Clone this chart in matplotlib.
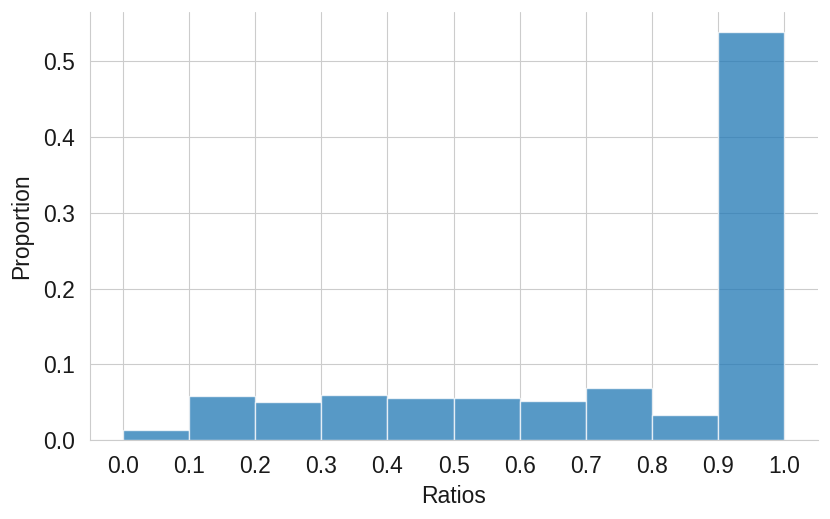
import numpy as np
import matplotlib.pyplot as plt
import seaborn as sns

# bin edges and proportion in each bin
bin_edges   = [0.0, 0.1, 0.2, 0.3, 0.4, 0.5, 0.6, 0.7, 0.8, 0.9, 1.0]
proportions = [0.014, 0.058, 0.050, 0.059, 0.055, 0.056, 0.051, 0.069, 0.033, 0.538]
x_ticks     = [0.0, 0.1, 0.2, 0.3, 0.4, 0.5, 0.6, 0.7, 0.8, 0.9, 1.0]

sns.set_style("whitegrid")
plt.rcParams["font.family"] = ["Liberation Sans", "DejaVu Sans"]

fig, ax = plt.subplots(figsize=(8.3, 5.19), dpi=100)

edges = np.array(bin_edges)
ax.bar(edges[:-1], proportions, width=np.diff(edges), align="edge",
       color="#1f77b4", alpha=0.75, edgecolor="white", linewidth=1.0)

ax.set_xticks(x_ticks)
ax.set_xticklabels([f"{t:.1f}" for t in x_ticks])
ax.tick_params(labelsize=16.5, labelcolor="#1a1a1a")
ax.tick_params(axis="y", pad=7)
ax.tick_params(axis="x", pad=7)
ax.set_xlabel("Ratios", fontsize=16.5, color="#1a1a1a", labelpad=5)
ax.set_ylabel("Proportion", fontsize=16.5, color="#1a1a1a", labelpad=7)
ax.margins(x=0.05)

for s in ax.spines.values():
    s.set_color("#cccccc")
sns.despine(ax=ax)

fig.subplots_adjust(left=0.108, right=0.985, bottom=0.152, top=0.977)
fig.savefig("out.png", dpi=100)
plt.close(fig)
